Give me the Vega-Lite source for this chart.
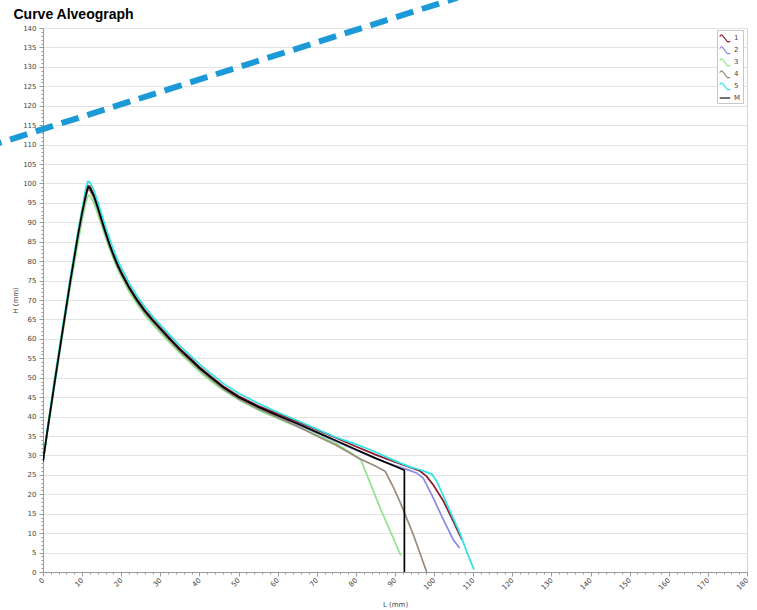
{
  "$schema": "https://vega.github.io/schema/vega-lite/v6.json",
  "width": 704,
  "height": 544,
  "autosize": {"type": "none"},
  "padding": {"left": 43, "top": 28, "right": 10, "bottom": 38},
  "background": "white",
  "config": {
    "view": {"stroke": "#d4d4d4"},
    "axis": {"labelFont": "DejaVu Sans", "labelFontSize": 7, "labelColor": "#444444", "titleFont": "DejaVu Sans", "titleFontSize": 7, "titleFontWeight": "normal", "titleColor": "#444444", "domainColor": "#9a9a9a", "tickColor": "#9a9a9a", "gridColor": "#e3e3e3"}
  },
  "datasets": {
    "curves": [
      {"s":"1","L":0,"H":28.4},{"s":"1","L":1,"H":35.6},{"s":"1","L":3,"H":49.1},{"s":"1","L":5,"H":62.1},{"s":"1","L":7,"H":75.1},{"s":"1","L":9,"H":87.2},{"s":"1","L":10,"H":92.8},{"s":"1","L":11,"H":97.6},{"s":"1","L":11.5,"H":99.4},{"s":"1","L":12,"H":99.2},{"s":"1","L":13,"H":97.2},{"s":"1","L":14,"H":94.2},{"s":"1","L":15,"H":90.9},{"s":"1","L":16,"H":87.7},{"s":"1","L":17,"H":84.6},{"s":"1","L":18,"H":81.9},{"s":"1","L":19,"H":79.4},{"s":"1","L":20,"H":77.3},{"s":"1","L":22,"H":73.5},{"s":"1","L":24,"H":70.3},{"s":"1","L":26,"H":67.5},{"s":"1","L":28,"H":65.1},{"s":"1","L":30,"H":62.9},{"s":"1","L":32,"H":60.7},{"s":"1","L":35,"H":57.5},{"s":"1","L":38,"H":54.7},{"s":"1","L":40,"H":52.8},{"s":"1","L":43,"H":50.3},{"s":"1","L":46,"H":47.9},{"s":"1","L":50,"H":45.3},{"s":"1","L":55,"H":42.8},{"s":"1","L":60,"H":40.7},{"s":"1","L":65,"H":38.7},{"s":"1","L":70,"H":36.6},{"s":"1","L":75,"H":34.5},{"s":"1","L":80,"H":32.3},{"s":"1","L":85,"H":30.2},{"s":"1","L":90,"H":28.3},{"s":"1","L":93,"H":27.2},{"s":"1","L":96.4,"H":26.0},{"s":"1","L":98.1,"H":24.6},{"s":"1","L":99.8,"H":22.4},{"s":"1","L":102.4,"H":18.2},{"s":"1","L":104.9,"H":13.0},{"s":"1","L":107.1,"H":8.3},
      {"s":"2","L":0,"H":28.4},{"s":"2","L":1,"H":35.5},{"s":"2","L":3,"H":49},{"s":"2","L":5,"H":62},{"s":"2","L":7,"H":75},{"s":"2","L":9,"H":87},{"s":"2","L":10,"H":92.4},{"s":"2","L":11,"H":97.0},{"s":"2","L":11.5,"H":98.8},{"s":"2","L":12,"H":98.6},{"s":"2","L":13,"H":96.6},{"s":"2","L":14,"H":93.6},{"s":"2","L":15,"H":90.3},{"s":"2","L":16,"H":87.1},{"s":"2","L":17,"H":84.1},{"s":"2","L":18,"H":81.4},{"s":"2","L":19,"H":78.9},{"s":"2","L":20,"H":76.8},{"s":"2","L":22,"H":73.0},{"s":"2","L":24,"H":69.8},{"s":"2","L":26,"H":67.0},{"s":"2","L":28,"H":64.6},{"s":"2","L":30,"H":62.4},{"s":"2","L":32,"H":60.2},{"s":"2","L":35,"H":57.0},{"s":"2","L":38,"H":54.2},{"s":"2","L":40,"H":52.3},{"s":"2","L":43,"H":49.8},{"s":"2","L":46,"H":47.4},{"s":"2","L":50,"H":44.8},{"s":"2","L":55,"H":42.3},{"s":"2","L":60,"H":40.1},{"s":"2","L":65,"H":38.0},{"s":"2","L":70,"H":35.8},{"s":"2","L":75,"H":33.6},{"s":"2","L":80,"H":31.4},{"s":"2","L":85,"H":29.2},{"s":"2","L":90,"H":27.4},{"s":"2","L":93,"H":26.4},{"s":"2","L":95.5,"H":25.5},{"s":"2","L":97.2,"H":24.2},{"s":"2","L":99.8,"H":19.0},{"s":"2","L":102.4,"H":13.4},{"s":"2","L":104.9,"H":8.3},{"s":"2","L":106.5,"H":6.2},
      {"s":"3","L":0,"H":28.4},{"s":"3","L":1,"H":35},{"s":"3","L":3,"H":48},{"s":"3","L":5,"H":61},{"s":"3","L":7,"H":73.5},{"s":"3","L":9,"H":85},{"s":"3","L":10,"H":90.5},{"s":"3","L":11,"H":95.3},{"s":"3","L":11.6,"H":97.0},{"s":"3","L":12,"H":96.8},{"s":"3","L":13,"H":95.0},{"s":"3","L":14,"H":92.2},{"s":"3","L":15,"H":89.1},{"s":"3","L":16,"H":86.1},{"s":"3","L":17,"H":83.2},{"s":"3","L":18,"H":80.6},{"s":"3","L":19,"H":78.1},{"s":"3","L":20,"H":76.0},{"s":"3","L":22,"H":72.2},{"s":"3","L":24,"H":69.0},{"s":"3","L":26,"H":66.2},{"s":"3","L":28,"H":63.8},{"s":"3","L":30,"H":61.6},{"s":"3","L":32,"H":59.4},{"s":"3","L":35,"H":56.3},{"s":"3","L":38,"H":53.5},{"s":"3","L":40,"H":51.6},{"s":"3","L":43,"H":49.1},{"s":"3","L":46,"H":46.9},{"s":"3","L":50,"H":44.3},{"s":"3","L":55,"H":41.7},{"s":"3","L":60,"H":39.5},{"s":"3","L":65,"H":37.4},{"s":"3","L":70,"H":35.3},{"s":"3","L":75,"H":33.0},{"s":"3","L":79,"H":30.5},{"s":"3","L":81.3,"H":28.8},{"s":"3","L":86.2,"H":16.5},{"s":"3","L":91.5,"H":4.2},
      {"s":"4","L":0,"H":28.4},{"s":"4","L":1,"H":35.3},{"s":"4","L":3,"H":48.7},{"s":"4","L":5,"H":61.6},{"s":"4","L":7,"H":74.5},{"s":"4","L":9,"H":86.5},{"s":"4","L":10,"H":92},{"s":"4","L":11,"H":96.7},{"s":"4","L":11.5,"H":98.4},{"s":"4","L":12,"H":98.2},{"s":"4","L":13,"H":96.2},{"s":"4","L":14,"H":93.2},{"s":"4","L":15,"H":89.9},{"s":"4","L":16,"H":86.8},{"s":"4","L":17,"H":83.8},{"s":"4","L":18,"H":81.1},{"s":"4","L":19,"H":78.7},{"s":"4","L":20,"H":76.6},{"s":"4","L":22,"H":72.8},{"s":"4","L":24,"H":69.6},{"s":"4","L":26,"H":66.8},{"s":"4","L":28,"H":64.4},{"s":"4","L":30,"H":62.2},{"s":"4","L":32,"H":60.0},{"s":"4","L":35,"H":56.8},{"s":"4","L":38,"H":54.0},{"s":"4","L":40,"H":52.1},{"s":"4","L":43,"H":49.6},{"s":"4","L":46,"H":47.2},{"s":"4","L":50,"H":44.6},{"s":"4","L":55,"H":42.0},{"s":"4","L":60,"H":39.8},{"s":"4","L":65,"H":37.5},{"s":"4","L":70,"H":35.0},{"s":"4","L":75,"H":32.6},{"s":"4","L":81.1,"H":29.1},{"s":"4","L":85,"H":27.3},{"s":"4","L":87.5,"H":25.9},{"s":"4","L":89.5,"H":22},{"s":"4","L":91.3,"H":18},{"s":"4","L":94.7,"H":9.6},{"s":"4","L":98.1,"H":0},
      {"s":"5","L":0,"H":28.4},{"s":"5","L":1,"H":36},{"s":"5","L":3,"H":50},{"s":"5","L":5,"H":63},{"s":"5","L":7,"H":76},{"s":"5","L":9,"H":88},{"s":"5","L":10,"H":93.5},{"s":"5","L":11,"H":99},{"s":"5","L":11.5,"H":100.5},{"s":"5","L":12,"H":100.3},{"s":"5","L":13,"H":98.3},{"s":"5","L":14,"H":95.3},{"s":"5","L":15,"H":92.0},{"s":"5","L":16,"H":88.8},{"s":"5","L":17,"H":85.8},{"s":"5","L":18,"H":83.0},{"s":"5","L":19,"H":80.5},{"s":"5","L":20,"H":78.3},{"s":"5","L":22,"H":74.4},{"s":"5","L":24,"H":71.1},{"s":"5","L":26,"H":68.3},{"s":"5","L":28,"H":65.8},{"s":"5","L":30,"H":63.6},{"s":"5","L":32,"H":61.4},{"s":"5","L":35,"H":58.2},{"s":"5","L":38,"H":55.4},{"s":"5","L":40,"H":53.5},{"s":"5","L":43,"H":51.0},{"s":"5","L":46,"H":48.6},{"s":"5","L":50,"H":46.0},{"s":"5","L":55,"H":43.4},{"s":"5","L":60,"H":41.1},{"s":"5","L":65,"H":39.0},{"s":"5","L":70,"H":36.8},{"s":"5","L":75,"H":34.6},{"s":"5","L":80,"H":32.9},{"s":"5","L":85,"H":30.9},{"s":"5","L":90,"H":28.6},{"s":"5","L":94,"H":27.0},{"s":"5","L":96.4,"H":26.3},{"s":"5","L":99.4,"H":25.2},{"s":"5","L":100.7,"H":23.3},{"s":"5","L":104.1,"H":15.6},{"s":"5","L":106.6,"H":10.0},{"s":"5","L":108.3,"H":5.3},{"s":"5","L":110.2,"H":0.6},
      {"s":"M","L":0,"H":28.4},{"s":"M","L":1,"H":35.5},{"s":"M","L":3,"H":49},{"s":"M","L":5,"H":62},{"s":"M","L":7,"H":75},{"s":"M","L":9,"H":87},{"s":"M","L":10,"H":92.5},{"s":"M","L":11,"H":97.2},{"s":"M","L":11.5,"H":99.0},{"s":"M","L":12,"H":98.8},{"s":"M","L":13,"H":96.8},{"s":"M","L":14,"H":93.8},{"s":"M","L":15,"H":90.5},{"s":"M","L":16,"H":87.3},{"s":"M","L":17,"H":84.3},{"s":"M","L":18,"H":81.6},{"s":"M","L":19,"H":79.1},{"s":"M","L":20,"H":77.0},{"s":"M","L":22,"H":73.2},{"s":"M","L":24,"H":70.0},{"s":"M","L":26,"H":67.2},{"s":"M","L":28,"H":64.8},{"s":"M","L":30,"H":62.6},{"s":"M","L":32,"H":60.4},{"s":"M","L":35,"H":57.2},{"s":"M","L":38,"H":54.4},{"s":"M","L":40,"H":52.5},{"s":"M","L":43,"H":50.0},{"s":"M","L":46,"H":47.6},{"s":"M","L":50,"H":45.0},{"s":"M","L":55,"H":42.5},{"s":"M","L":60,"H":40.3},{"s":"M","L":65,"H":38.2},{"s":"M","L":70,"H":36.0},{"s":"M","L":75,"H":33.8},{"s":"M","L":80,"H":31.5},{"s":"M","L":85,"H":29.3},{"s":"M","L":90,"H":27.2},{"s":"M","L":92.4,"H":26.2},{"s":"M","L":92.4,"H":0}
    ],
    "dash": [{"L": -15.0, "H": 109.2}, {"L": 106.0, "H": 147.8}]
  },
  "resolve": {"axis": {"x": "independent", "y": "independent"}},
  "layer": [
    {
      "data": {"name": "curves"},
      "mark": {"type": "line", "strokeWidth": 1.7, "clip": true},
      "encoding": {
        "x": {"field": "L", "type": "quantitative", "title": "L (mm)",
          "scale": {"domain": [0, 180], "nice": false, "zero": false},
          "axis": {"values": [0,2,4,6,8,10,12,14,16,18,20,22,24,26,28,30,32,34,36,38,40,42,44,46,48,50,52,54,56,58,60,62,64,66,68,70,72,74,76,78,80,82,84,86,88,90,92,94,96,98,100,102,104,106,108,110,112,114,116,118,120,122,124,126,128,130,132,134,136,138,140,142,144,146,148,150,152,154,156,158,160,162,164,166,168,170,172,174,176,178,180],
            "labelExpr": "datum.value % 10 === 0 ? datum.label : ''",
            "tickSize": {"condition": {"test": "datum.value % 10 === 0", "value": 4}, "value": 2},
            "grid": false, "labelAngle": -45, "labelAlign": "right", "labelBaseline": "middle", "labelPadding": 3, "labelOverlap": false, "labelBound": false, "labelFlush": false,
            "titleY": 34, "titleBaseline": "alphabetic"}},
        "y": {"field": "H", "type": "quantitative", "title": "H (mm)",
          "scale": {"domain": [0, 140], "nice": false, "zero": false},
          "axis": {"values": [0,1,2,3,4,5,6,7,8,9,10,11,12,13,14,15,16,17,18,19,20,21,22,23,24,25,26,27,28,29,30,31,32,33,34,35,36,37,38,39,40,41,42,43,44,45,46,47,48,49,50,51,52,53,54,55,56,57,58,59,60,61,62,63,64,65,66,67,68,69,70,71,72,73,74,75,76,77,78,79,80,81,82,83,84,85,86,87,88,89,90,91,92,93,94,95,96,97,98,99,100,101,102,103,104,105,106,107,108,109,110,111,112,113,114,115,116,117,118,119,120,121,122,123,124,125,126,127,128,129,130,131,132,133,134,135,136,137,138,139,140],
            "labelExpr": "datum.value % 5 === 0 ? datum.label : ''",
            "tickSize": {"condition": {"test": "datum.value % 5 === 0", "value": 4}, "value": 2},
            "gridOpacity": {"condition": {"test": "datum.value % 5 === 0", "value": 1}, "value": 0},
            "grid": true, "labelPadding": 3, "labelOverlap": false, "labelBound": false, "labelFlush": false,
            "titleX": -28, "titleY": 272, "titleAngle": -90, "titleBaseline": "middle", "titleAlign": "center"}},
        "color": {"field": "s", "type": "nominal",
          "scale": {"domain": ["1","2","3","4","5","M"], "range": ["#8e1b2e","#8a8ae6","#90e68e","#9a8a7a","#2ee3e3","#000000"]},
          "legend": {"title": null, "orient": "none", "legendX": 674, "legendY": 2, "direction": "vertical",
            "strokeColor": "#c8c8c8", "fillColor": "#ffffff", "padding": 2, "rowPadding": 0, "symbolOffset": 0, "columnPadding": 0, "labelLimit": 30,
            "symbolType": "stroke", "symbolSize": 110, "symbolStrokeWidth": 1.1,
            "labelFont": "DejaVu Sans", "labelFontSize": 7, "labelColor": "#444444", "labelOffset": 3,
            "encode": {"symbols": {"update": {
              "shape": {"signal": "datum.value === 'M' ? 'stroke' : 'M-1,-0.25 C-0.85,-0.6 -0.65,-0.7 -0.45,-0.45 L0.45,0.7 L1,0.7'"},
              "fill": {"value": "transparent"}}}}}}
      }
    },
    {
      "data": {"name": "dash"},
      "mark": {"type": "line", "color": "#1b9ad7", "strokeWidth": 6, "strokeDash": [18, 9], "strokeCap": "butt", "clip": false},
      "encoding": {
        "x": {"field": "L", "type": "quantitative",
          "axis": {"orient": "top", "title": "Curve Alveograph", "domain": false, "ticks": false, "labels": false, "grid": false,
            "titleX": -30, "titleY": -10, "titleAlign": "left", "titleAnchor": "start", "titleBaseline": "alphabetic", "titleAngle": 0,
            "titleFont": "Liberation Sans", "titleFontSize": 14, "titleFontWeight": "bold", "titleColor": "#000000"}},
        "y": {"field": "H", "type": "quantitative", "axis": null}
      }
    }
  ]
}
